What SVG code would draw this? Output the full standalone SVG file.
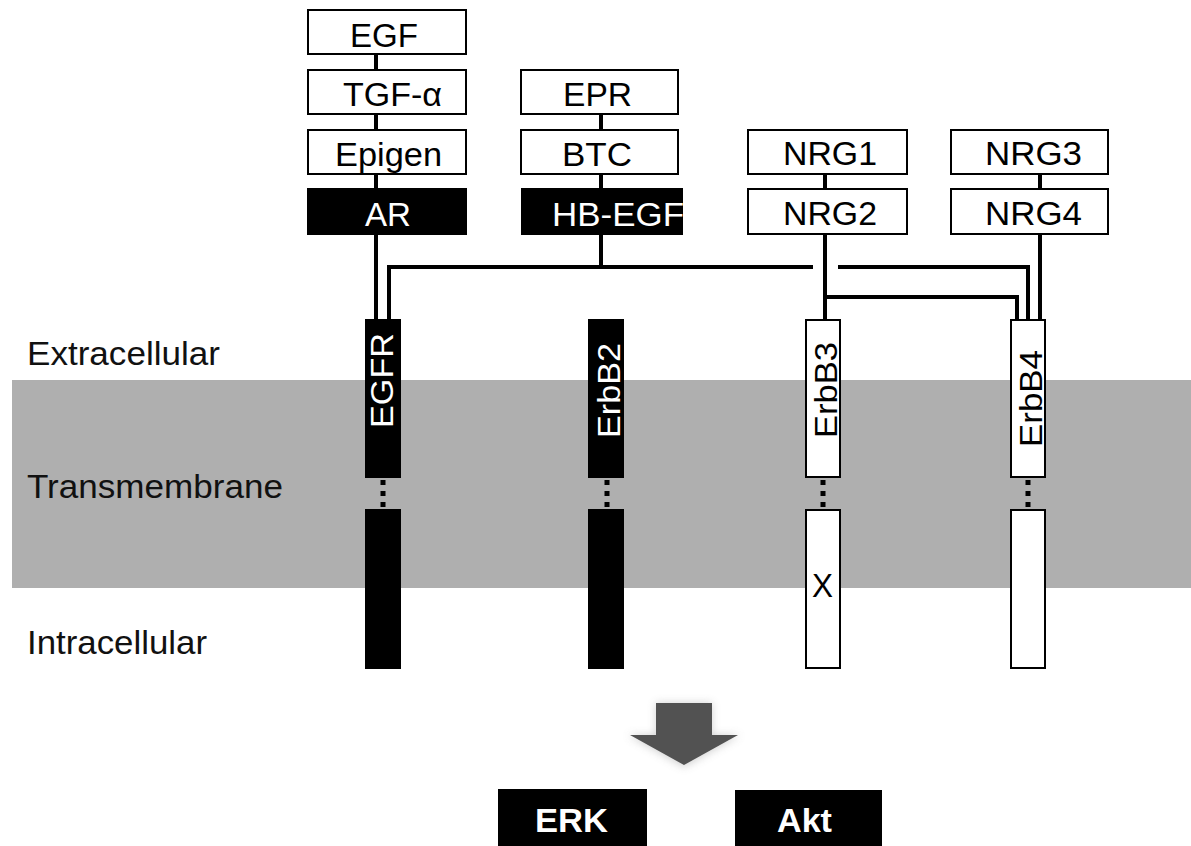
<svg xmlns="http://www.w3.org/2000/svg" width="1191" height="846" viewBox="0 0 1191 846">
  <defs>
    <style>
      .box{fill:#fff;stroke:#000;stroke-width:2}
      .dark{fill:#000;stroke:#000;stroke-width:2}
      .t{font-family:"Liberation Sans",Arial,sans-serif;font-size:33px;fill:#000}
      .tw{fill:#fff}
      .lbl{font-family:"Liberation Sans",Arial,sans-serif;font-size:33px;fill:#111}
      .rt{font-family:"Liberation Sans",Arial,sans-serif;font-size:32px}
      .wire{fill:none;stroke:#000;stroke-width:4}
      .dots{stroke:#000;stroke-width:5;stroke-dasharray:5 6}
      .out{font-family:"Liberation Sans",Arial,sans-serif;font-size:34px;font-weight:bold;fill:#fff}
    </style>
    <filter id="soft" x="-30%" y="-30%" width="160%" height="160%">
      <feGaussianBlur stdDeviation="4"/>
    </filter>
  </defs>

  <rect width="1191" height="846" fill="#fff"/>

  <!-- membrane band -->
  <rect id="membrane" x="12" y="380" width="1179" height="208" fill="#afafaf"/>

  <!-- compartment labels -->
  <g id="compartments">
    <text class="lbl" x="27" y="365" textLength="193" lengthAdjust="spacingAndGlyphs">Extracellular</text>
    <text class="lbl" x="27" y="498" textLength="256" lengthAdjust="spacingAndGlyphs">Transmembrane</text>
    <text class="lbl" x="27" y="654" textLength="180" lengthAdjust="spacingAndGlyphs">Intracellular</text>
  </g>

  <!-- connectors -->
  <g id="connectors">
    <!-- EGF column -->
    <line class="wire" x1="376" y1="54" x2="376" y2="320"/>
    <!-- EPR / BTC / HB-EGF column -->
    <line class="wire" x1="601" y1="114" x2="601" y2="267"/>
    <path class="wire" d="M389 320 V267 H813"/>
    <path class="wire" d="M838 267 H1028 V320"/>
    <!-- NRG1 / NRG2 -->
    <line class="wire" x1="825" y1="174" x2="825" y2="320"/>
    <path class="wire" d="M825 297 H1017 V320"/>
    <!-- NRG3 / NRG4 -->
    <line class="wire" x1="1040" y1="174" x2="1040" y2="320"/>
    <!-- transmembrane links -->
    <line class="dots" x1="383" y1="480" x2="383" y2="510"/>
    <line class="dots" x1="607" y1="480" x2="607" y2="510"/>
    <line class="dots" x1="823" y1="480" x2="823" y2="510"/>
    <line class="dots" x1="1028" y1="480" x2="1028" y2="510"/>
  </g>

  <!-- ligands -->
  <g id="EGF"><rect class="box" x="308" y="10" width="158" height="44"/><text class="t" x="350" y="47" textLength="68" lengthAdjust="spacingAndGlyphs">EGF</text></g>
  <g id="TGFa"><rect class="box" x="308" y="70" width="158" height="44"/><text class="t" x="343" y="106" textLength="99" lengthAdjust="spacingAndGlyphs">TGF-α</text></g>
  <g id="Epigen"><rect class="box" x="308" y="130" width="158" height="44"/><text class="t" x="335" y="166" textLength="107" lengthAdjust="spacingAndGlyphs">Epigen</text></g>
  <g id="AR"><rect class="dark" x="308" y="189" width="158" height="45"/><text class="t tw" x="365" y="226" textLength="46" lengthAdjust="spacingAndGlyphs">AR</text></g>

  <g id="EPR"><rect class="box" x="521" y="70" width="157" height="44"/><text class="t" x="563" y="106" textLength="69" lengthAdjust="spacingAndGlyphs">EPR</text></g>
  <g id="BTC"><rect class="box" x="521" y="130" width="157" height="44"/><text class="t" x="562" y="166" textLength="70" lengthAdjust="spacingAndGlyphs">BTC</text></g>
  <g id="HB-EGF"><rect class="dark" x="522" y="189" width="160" height="45"/><text class="t tw" x="552" y="226" textLength="132" lengthAdjust="spacingAndGlyphs">HB-EGF</text></g>

  <g id="NRG1"><rect class="box" x="748" y="130" width="159" height="44"/><text class="t" x="783" y="165" textLength="94" lengthAdjust="spacingAndGlyphs">NRG1</text></g>
  <g id="NRG2"><rect class="box" x="748" y="189" width="159" height="45"/><text class="t" x="783" y="225" textLength="94" lengthAdjust="spacingAndGlyphs">NRG2</text></g>
  <g id="NRG3"><rect class="box" x="951" y="130" width="157" height="44"/><text class="t" x="985" y="165" textLength="97" lengthAdjust="spacingAndGlyphs">NRG3</text></g>
  <g id="NRG4"><rect class="box" x="951" y="189" width="157" height="45"/><text class="t" x="985" y="225" textLength="97" lengthAdjust="spacingAndGlyphs">NRG4</text></g>

  <!-- receptors -->
  <g id="EGFR">
    <rect class="dark" x="366" y="320" width="34" height="157"/>
    <rect class="dark" x="366" y="510" width="34" height="158"/>
    <text class="rt" fill="#fff" text-anchor="middle" textLength="95" lengthAdjust="spacingAndGlyphs" transform="translate(393 380.5) rotate(-90)">EGFR</text>
  </g>
  <g id="ErbB2">
    <rect class="dark" x="589" y="320" width="34" height="157"/>
    <rect class="dark" x="589" y="510" width="34" height="158"/>
    <text class="rt" fill="#fff" text-anchor="middle" textLength="95" lengthAdjust="spacingAndGlyphs" transform="translate(620 390.5) rotate(-90)">ErbB2</text>
  </g>
  <g id="ErbB3">
    <rect class="box" x="806" y="320" width="34" height="157"/>
    <rect class="box" x="806" y="510" width="34" height="158"/>
    <text class="rt" fill="#000" text-anchor="middle" textLength="96" lengthAdjust="spacingAndGlyphs" transform="translate(837 390) rotate(-90)">ErbB3</text>
    <text class="t" x="812" y="597" textLength="21" lengthAdjust="spacingAndGlyphs">X</text>
  </g>
  <g id="ErbB4">
    <rect class="box" x="1011" y="320" width="34" height="157"/>
    <rect class="box" x="1011" y="510" width="34" height="158"/>
    <text class="rt" fill="#000" text-anchor="middle" textLength="97" lengthAdjust="spacingAndGlyphs" transform="translate(1042 398.5) rotate(-90)">ErbB4</text>
  </g>

  <!-- downstream arrow -->
  <g id="arrow">
    <path d="M656 703 H712 V735 H740 L684 767 L628 735 H656 Z" fill="#999" opacity="0.45" filter="url(#soft)"/>
    <path d="M656 703 H712 V735 H738 L684 765 L630 735 H656 Z" fill="#525252"/>
  </g>

  <!-- outputs -->
  <g id="ERK"><rect x="498" y="789" width="149" height="60" fill="#000"/><text class="out" x="535" y="832" textLength="73" lengthAdjust="spacingAndGlyphs">ERK</text></g>
  <g id="Akt"><rect x="735" y="790" width="147" height="60" fill="#000"/><text class="out" x="777" y="832" textLength="55" lengthAdjust="spacingAndGlyphs">Akt</text></g>
</svg>
